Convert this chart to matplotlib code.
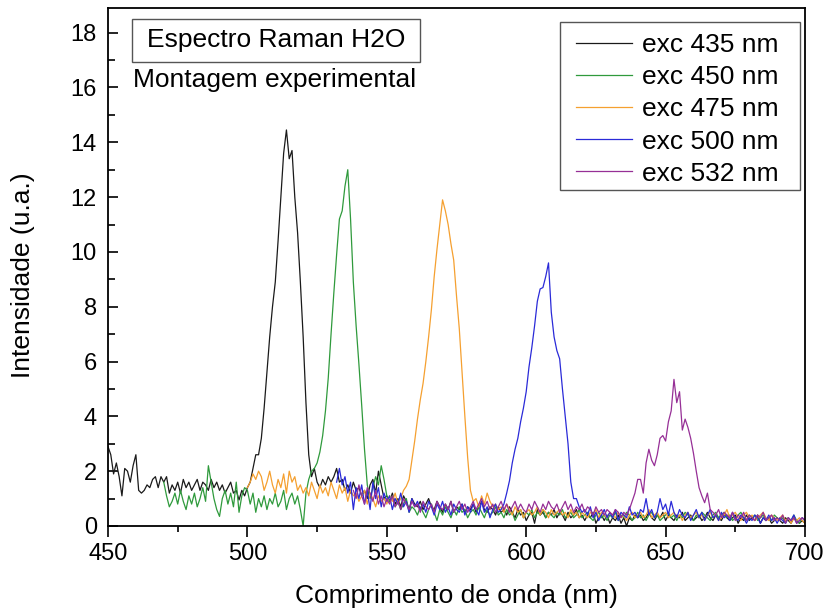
import numpy as np
import matplotlib
matplotlib.use("Agg")
import matplotlib.pyplot as plt
from matplotlib.patches import Rectangle
from matplotlib.ticker import MultipleLocator

plt.rcParams['font.family'] = ['Liberation Sans', 'DejaVu Sans']

# ---------------- data (1 nm sampling) ----------------
labels = ["exc 435 nm", "exc 450 nm", "exc 475 nm", "exc 500 nm", "exc 532 nm"]
colors = ["#1a1a1a", "#2f9a3c", "#f5a030", "#2a2ad8", "#962f96"]

x435_start, x450_start, x475_start, x500_start, x532_start = 450, 470, 500, 532, 538

y435 = [
    2.9, 2.6, 1.9, 2.3, 1.8, 1.1, 2.1, 2.0, 1.6, 2.2, 2.6,
    1.3, 1.2, 1.3, 1.5, 1.4, 1.7, 1.8, 1.4, 1.8, 1.6,
    1.8, 1.2, 1.5, 1.3, 1.6, 1.2, 1.7, 1.4, 1.6, 1.3,
    1.5, 1.7, 1.3, 1.6, 1.5, 1.3, 1.7, 1.4, 1.6, 1.3,
    1.5, 1.2, 1.4, 1.6, 1.2, 1.3, 0.95, 1.3, 1.1, 1.4,
    1.6, 2.1, 2.6, 2.6, 3.2, 4.3, 5.6, 6.9, 8.0, 8.9,
    10.4, 12.0, 13.6, 14.45, 13.4, 13.7, 12.0, 10.7, 8.9, 6.9,
    4.5, 2.6, 1.8, 2.1,
    1.6, 1.4, 1.7, 1.5, 1.8, 1.6, 1.8, 2.1, 1.6, 1.7,
    1.3, 1.5, 1.2, 1.6, 1.3, 1.4, 1.1, 1.3, 1.0, 1.5,
    1.7, 1.2, 2.0, 1.5, 1.0, 1.1,
    0.9, 1.2, 0.8, 1.0, 0.7, 1.1, 0.9, 0.6, 1.0, 0.8,
    0.7, 0.9, 0.6, 0.8, 1.0, 0.7, 0.6, 0.9, 0.7, 0.5,
    0.8, 0.6, 0.9, 0.5, 0.7, 0.6, 0.8, 0.5, 0.7, 0.6,
    0.8, 0.5, 0.7, 0.9, 0.6, 0.5, 0.7, 0.6, 0.4, 0.7,
    0.5, 0.6, 0.4, 0.7, 0.5, 0.3, 0.6, 0.4, 0.5, 0.2,
    0.4, 0.5, 0.1, 0.6, 0.4, 0.5, 0.3, 0.5, 0.4, 0.6,
    0.3, 0.5, 0.4, 0.2, 0.5, 0.3, 0.4, 0.6, 0.3, 0.4,
    0.2, 0.4, 0.3, 0.5, 0.1, 0.3, 0.4, 0.2, 0.4, 0.1,
    0.3, 0.2, 0.4, 0.1, 0.3, 0.0, 0.3, 0.2, 0.4, 0.3,
    0.4, 0.2, 0.3, 0.5, 0.3, 0.2, 0.4, 0.3, 0.5, 0.2,
    0.4, 0.3, 0.2, 0.4, 0.3, 0.5, 0.2, 0.3, 0.4, 0.2,
    0.3, 0.4, 0.2, 0.3, 0.5, 0.3, 0.2, 0.4, 0.3, 0.2,
    0.4, 0.3, 0.2, 0.3, 0.4, 0.1, 0.3, 0.2, 0.4, 0.2,
    0.3, 0.2, 0.4, 0.1, 0.3, 0.2, 0.3, 0.1, 0.2, 0.3,
    0.2, 0.1, 0.3, 0.2, 0.1, 0.3, 0.2, 0.1, 0.2, 0.1,
]

y450 = [
    1.6, 1.1, 0.7, 0.9, 1.2, 0.8, 1.3, 0.9, 0.6, 1.1, 0.8,
    1.2, 0.7, 1.0, 1.4, 0.9, 2.2, 1.6, 1.0, 0.6, 0.35,
    1.0, 1.3, 0.8, 1.2, 0.7, 1.6, 0.5, 1.1, 1.4, 1.3,
    0.8, 1.2, 0.5, 1.0, 0.7, 1.1, 0.6, 1.0, 0.8, 1.2,
    0.7, 0.9, 1.3, 0.6, 1.0, 1.2, 0.8, 1.1, 0.6, 0.0,
    1.2, 1.7, 2.0, 2.1, 2.3, 2.7, 3.3, 4.2, 5.4, 7.0,
    8.5, 9.9, 11.2, 11.5, 12.4, 13.0, 11.2, 8.9, 7.3, 5.9,
    4.4, 2.8, 1.5, 1.0, 1.4, 1.8, 1.5, 2.2, 1.7, 1.1,
    0.9, 1.1, 0.7, 0.9, 0.6, 0.8, 1.0, 0.5, 0.7, 0.6,
    0.4, 0.7, 0.5, 0.3, 0.6, 0.8, 0.5, 0.2, 0.6, 0.4,
    0.7, 0.5, 0.3, 0.6, 0.4, 0.7, 0.5, 0.6, 0.3, 0.5,
    0.6, 0.4, 0.7, 0.5, 0.3, 0.6, 0.4, 0.5, 0.7, 0.4,
    0.5, 0.3, 0.6, 0.4, 0.5, 0.2, 0.4, 0.6, 0.3, 0.5,
    0.4, 0.6, 0.3, 0.5, 0.4, 0.6, 0.3, 0.5, 0.4, 0.3,
    0.5, 0.4, 0.6, 0.3, 0.4, 0.5, 0.3, 0.4, 0.6, 0.3,
    0.4, 0.5, 0.3, 0.2, 0.4, 0.5, 0.3, 0.4, 0.2, 0.4,
    0.3, 0.5, 0.2, 0.4, 0.3, 0.5, 0.4, 0.2, 0.3, 0.5,
    0.3, 0.4, 0.2, 0.4, 0.5, 0.3, 0.4, 0.2, 0.3, 0.4,
    0.5, 0.3, 0.4, 0.2, 0.4, 0.3, 0.5, 0.4, 0.3, 0.2,
    0.4, 0.3, 0.5, 0.4, 0.3, 0.2, 0.4, 0.5, 0.3, 0.4,
    0.5, 0.3, 0.4, 0.2, 0.3, 0.4, 0.5, 0.3, 0.2, 0.4,
    0.3, 0.4, 0.2, 0.3, 0.4, 0.2, 0.3, 0.2, 0.4, 0.3,
    0.2, 0.3, 0.1, 0.3, 0.2, 0.4, 0.2, 0.1, 0.3, 0.2,
]

y475 = [
    1.4, 1.6, 1.9, 1.7, 2.0, 1.8, 1.3, 1.6, 2.0, 1.5, 1.2,
    1.7, 1.4, 1.9, 1.2, 2.0, 1.6, 1.8, 1.3, 1.5, 1.2,
    1.4, 1.1, 1.6, 1.3, 1.0, 1.5, 1.2, 1.4, 1.1, 1.6,
    1.3, 1.0, 1.5, 1.2, 1.4, 0.9, 1.3, 1.1, 1.2, 0.9,
    1.1, 1.3, 0.8, 1.2, 1.0, 0.7, 1.1, 0.9, 1.0, 0.8,
    1.1, 0.9, 1.2, 0.8, 1.0, 1.3, 1.45, 1.7, 2.4, 3.1,
    3.9, 4.6, 5.2, 6.0, 6.9, 7.9, 9.1, 10.1, 11.0, 11.9,
    11.5, 11.0, 10.3, 9.7, 8.4, 7.2, 5.6, 4.0, 2.5, 1.3,
    0.9, 1.0, 0.7, 1.1, 0.8, 1.2, 0.9, 0.7, 0.8, 0.6,
    0.7, 0.5, 0.8, 0.6, 0.4, 0.7, 0.5, 0.6, 0.3, 0.5,
    0.6, 0.4, 0.5, 0.7, 0.4, 0.6, 0.5, 0.3, 0.6, 0.4,
    0.5, 0.6, 0.4, 0.5, 0.3, 0.6, 0.4, 0.5, 0.3, 0.5,
    0.4, 0.3, 0.5, 0.4, 0.6, 0.3, 0.5, 0.4, 0.3, 0.5,
    0.4, 0.3, 0.5, 0.3, 0.4, 0.2, 0.4, 0.5, 0.3, 0.4,
    0.5, 0.3, 0.4, 0.6, 0.3, 0.4, 0.5, 0.3, 0.4, 0.5,
    0.3, 0.4, 0.5, 0.3, 0.4, 0.2, 0.4, 0.5, 0.3, 0.4,
    0.5, 0.3, 0.4, 0.2, 0.4, 0.5, 0.3, 0.4, 0.2, 0.3,
    0.4, 0.6, 0.3, 0.4, 0.5, 0.3, 0.2, 0.4, 0.5, 0.3,
    0.4, 0.2, 0.3, 0.4, 0.5, 0.3, 0.2, 0.4, 0.3, 0.2,
    0.3, 0.4, 0.2, 0.3, 0.1, 0.3, 0.2, 0.3, 0.2, 0.1,
]

y500 = [
    1.6, 2.1, 1.5, 1.8, 1.2, 1.6, 0.6, 1.4, 1.0,
    1.5, 0.8, 1.3, 0.6, 1.6, 1.0, 1.4, 0.7, 1.2, 0.9,
    1.1, 0.6, 1.0, 0.8, 1.2, 0.7, 0.9, 0.5, 1.0, 0.7,
    0.9, 0.6, 0.8, 0.5, 0.9, 0.7, 0.4, 0.8, 0.6, 0.9,
    0.5, 0.7, 0.4, 0.8, 0.6, 0.5, 0.8, 0.4, 0.7, 0.5,
    0.8, 0.6, 0.4, 0.9, 0.5, 0.7, 0.3, 0.6, 0.8, 0.5,
    0.6, 0.8, 1.2, 1.65, 2.3, 2.8, 3.2, 3.8, 4.3, 4.9,
    5.8, 6.5, 7.3, 8.2, 8.65, 8.7, 9.1, 9.6, 7.8, 6.9,
    6.4, 6.1, 5.0, 4.0, 3.0, 1.6, 1.0, 1.0, 0.7, 0.5,
    0.6, 0.4, 0.7, 0.3, 0.5, 0.2, 0.4, 0.6, 0.3, 0.5,
    0.3, 0.6, 0.2, 0.5, 0.4, 0.3, 0.7, 0.4, 0.5, 0.3,
    0.6, 0.5, 1.0, 0.4, 0.6, 0.3, 0.5, 1.0, 0.6, 0.8,
    0.4, 0.9, 0.5, 0.3, 0.6, 0.4, 0.3, 0.5, 0.2, 0.4,
    0.6, 0.3, 0.5, 0.2, 0.4, 0.6, 0.3, 0.4, 0.2, 0.5,
    0.3, 0.4, 0.2, 0.5, 0.3, 0.2, 0.4, 0.3, 0.1, 0.3,
    0.2, 0.4, 0.3, 0.1, 0.3, 0.2, 0.4, 0.2, 0.3, 0.1,
    0.3, 0.2, 0.1, 0.3, 0.2, 0.4, 0.1, 0.2, 0.3, 0.2,
]

y532 = [
    1.3, 1.0, 1.5,
    1.1, 0.8, 1.4, 1.2, 0.9, 1.3, 0.8, 1.1, 0.7, 1.0,
    0.8, 1.1, 0.7, 0.9, 0.6, 1.0, 0.8, 0.6, 0.9, 0.7,
    0.8, 0.5, 0.9, 0.7, 0.6, 0.8, 0.5, 0.9, 0.7, 0.6,
    0.8, 0.6, 0.9, 0.5, 0.7, 0.9, 0.6, 0.8, 0.5, 0.7,
    0.9, 0.6, 0.8, 1.0, 0.7, 0.9, 0.6, 0.8, 0.5, 0.7,
    0.9, 0.6, 0.8, 0.5, 0.7, 0.9, 0.6, 0.8, 0.6, 0.5,
    0.8, 0.6, 0.9, 0.7, 0.5, 0.8, 0.6, 0.9, 0.7, 0.6,
    0.8, 0.5, 0.7, 0.9, 0.6, 0.8, 0.5, 0.7, 0.6, 0.8,
    0.5, 0.7, 0.6, 0.4, 0.7, 0.5, 0.6, 0.4, 0.6, 0.5,
    0.4, 0.6, 0.5, 0.3, 0.5, 0.4, 0.6, 0.9, 1.2, 1.7,
    1.7, 1.2, 2.3, 2.8, 2.4, 2.2, 2.6, 3.2, 3.3, 3.1,
    3.8, 4.2, 5.35, 4.5, 4.9, 3.5, 3.9, 3.6, 3.2, 2.65,
    2.0, 1.4, 1.1, 0.85, 1.2, 0.6, 0.5, 0.4, 0.6, 0.3,
    0.5, 0.4, 0.3, 0.5, 0.2, 0.4, 0.3, 0.5, 0.2, 0.4,
    0.3, 0.2, 0.4, 0.3, 0.5, 0.2, 0.3, 0.4, 0.2, 0.3,
    0.2, 0.4, 0.1, 0.3, 0.2, 0.3, 0.1, 0.2, 0.3, 0.2,
]

series = [(x435_start, y435), (x450_start, y450), (x475_start, y475),
          (x500_start, y500), (x532_start, y532)]

xticks = [450, 500, 550, 600, 650, 700]
yticks = [0, 2, 4, 6, 8, 10, 12, 14, 16, 18]

# ---------------- figure ----------------
fig = plt.figure(figsize=(8.24, 6.10), dpi=100)
ax = fig.add_axes([108/824, 1 - 526/610, 697/824, 518/610])

for (start, ys), c, lab in zip(series, colors, labels):
    xs = np.arange(start, start + len(ys))
    ax.plot(xs, ys, color=c, lw=0.9, label=lab)

ax.set_xlim(450, 700)
ax.set_ylim(0, 18.9)
ax.set_xticks(xticks)
ax.set_yticks(yticks)
ax.xaxis.set_minor_locator(MultipleLocator(25))
ax.yaxis.set_minor_locator(MultipleLocator(1))
ax.tick_params(axis='x', which='major', direction='out', length=8, width=1.2, labelsize=17, pad=4)
ax.tick_params(axis='x', which='minor', direction='out', length=4.5, width=1.2)
ax.tick_params(axis='y', which='major', direction='in', length=7, width=1.2, labelsize=17, pad=8)
ax.tick_params(axis='y', which='minor', direction='in', length=5, width=1.2)
for s in ax.spines.values():
    s.set_linewidth(1.3)

ax.set_xlabel("Comprimento de onda (nm)", fontsize=19, labelpad=14)
ax.set_ylabel("Intensidade (u.a.)", fontsize=19, labelpad=10)
ax.yaxis.set_label_coords(-0.105, 0.485)

# legend (frame drawn separately so its margins match the original)
leg = ax.legend(loc='upper right', bbox_to_anchor=((779 - 108) / 697, (526 - 33) / 518),
                borderaxespad=0, borderpad=0, fontsize=19, frameon=False,
                handlelength=2.15, handletextpad=0.38, labelspacing=0.31)
ax.add_patch(Rectangle(((560 - 108) / 697, (526 - 190) / 518), 240 / 697, 168 / 518,
                       transform=ax.transAxes, fill=False, edgecolor='#555555', lw=1.0))

ax.add_patch(Rectangle((0.0344, 0.8958), 0.4132, 0.083, transform=ax.transAxes,
                       fill=False, edgecolor='#555555', lw=1.0))
ax.text(0.241, 0.9373, "Espectro Raman H2O", transform=ax.transAxes,
        ha='center', va='center', fontsize=19)
ax.text(0.0359, 0.861, "Montagem experimental", transform=ax.transAxes,
        ha='left', va='center', fontsize=19)

fig.savefig("out.png", dpi=100)
